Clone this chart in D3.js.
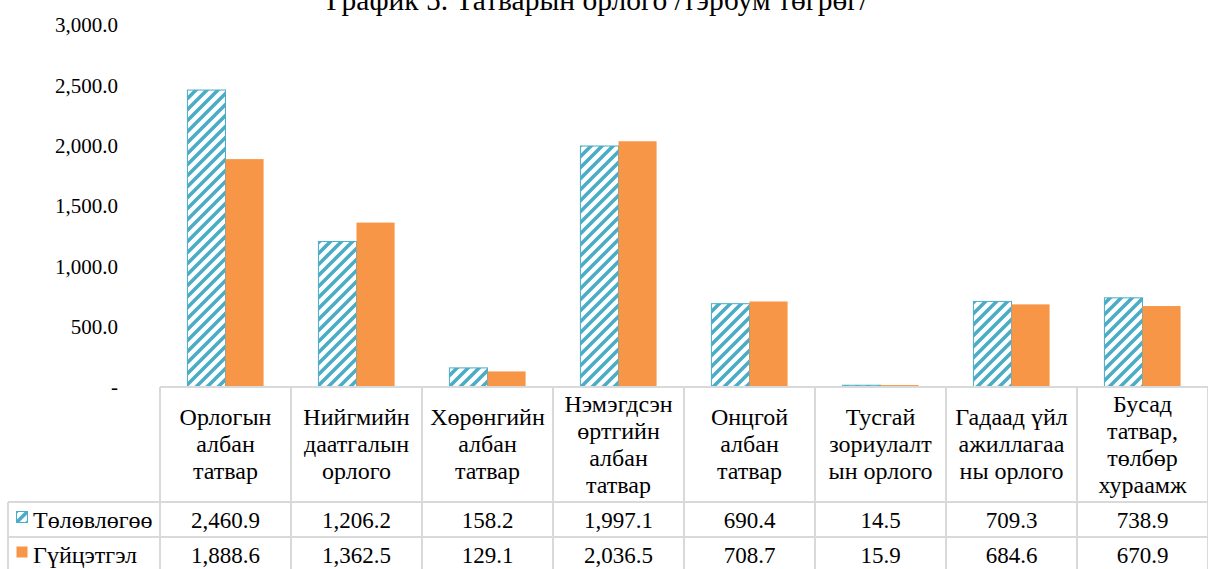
<!DOCTYPE html>
<html>
<head>
<meta charset="utf-8">
<script src="https://d3js.org/d3.v7.min.js"></script>
<style>
  body { margin: 0; background: white; }
</style>
</head>
<body>
<svg class="chart" width="1208" height="569"></svg>
<script>
var categories = [
  ["Орлогын", "албан", "татвар"],
  ["Нийгмийн", "даатгалын", "орлого"],
  ["Хөрөнгийн", "албан", "татвар"],
  ["Нэмэгдсэн", "өртгийн", "албан", "татвар"],
  ["Онцгой", "албан", "татвар"],
  ["Тусгай", "зориулалт", "ын орлого"],
  ["Гадаад үйл", "ажиллагаа", "ны орлого"],
  ["Бусад", "татвар,", "төлбөр", "хураамж"]
]
var seriesNames = ["Төлөвлөгөө", "Гүйцэтгэл"]
var plan = [2460.9, 1206.2, 158.2, 1997.1, 690.4, 14.5, 709.3, 738.9]
var actual = [1888.6, 1362.5, 129.1, 2036.5, 708.7, 15.9, 684.6, 670.9]
var yTicks = [0, 500, 1000, 1500, 2000, 2500, 3000]
var title = "График 5. Татварын орлого /тэрбум төгрөг/"

var blue = "#4bacc6", orange = "#f79646", grid = "#d9d9d9"
var svg = d3.select(".chart")

// wide upward diagonal hatch for the plan series
var pat = svg.append("defs").append("pattern")
  .attr("id", "hatch").attr("patternUnits", "userSpaceOnUse")
  .attr("width", 11).attr("height", 11)
pat.append("rect").attr("width", 11).attr("height", 11).attr("fill", "white")
pat.append("path").attr("d", "M-3,3 L3,-3 M0,11 L11,0 M8,14 L14,8")
  .attr("stroke", blue).attr("stroke-width", 3.6)

var keys = categories.map(function(d, i) { return "c" + i })
var x = d3.scaleBand().domain(keys).range([160, 1208])
var xs = d3.scaleBand().domain(seriesNames).range([0, x.bandwidth()]).paddingOuter(0.72)
var y = d3.scaleLinear().domain([0, 3000]).range([387, 25])

// title (top part falls off the page, as in the source)
svg.append("text").attr("x", 597).attr("y", 10).attr("text-anchor", "middle")
  .style("font-size", "29.5px").text(title)

// y axis labels only
var yAxis = svg.append("g").attr("transform", "translate(118,0)")
  .call(d3.axisLeft(y).tickValues(yTicks).tickSize(0).tickPadding(0)
    .tickFormat(function(d) { return d == 0 ? "-" : d3.format(",.1f")(d) }))
yAxis.select(".domain").remove()
yAxis.selectAll("text").style("font-size", "21px")

// bars
var rows = [plan, actual]
var fills = ["url(#hatch)", orange]
rows.forEach(function(vals, s) {
  svg.append("g").selectAll("rect").data(vals).enter().append("rect")
    .attr("x", function(d, i) { return x(keys[i]) + xs(seriesNames[s]) })
    .attr("width", xs.bandwidth())
    .attr("y", function(d) { return y(d) })
    .attr("height", function(d) { return y(0) - y(d) })
    .attr("fill", fills[s])
    .attr("stroke", s == 0 ? blue : "none").attr("stroke-width", 1)
})

// data table
var top0 = 387, headB = 502, r1B = 537, r2B = 572
var t = svg.append("g")
t.append("line").attr("x1", 160).attr("x2", 1208).attr("y1", top0).attr("y2", top0)
  .attr("stroke", grid).attr("stroke-width", 2)
;[headB, r1B, r2B].forEach(function(yy) {
  t.append("line").attr("x1", 8).attr("x2", 1208).attr("y1", yy).attr("y2", yy)
    .attr("stroke", grid).attr("stroke-width", 2)
})
keys.concat(["end"]).forEach(function(k, i) {
  var xx = k == "end" ? 1208 : x(k)
  t.append("line").attr("x1", xx).attr("x2", xx).attr("y1", top0).attr("y2", r2B)
    .attr("stroke", grid).attr("stroke-width", 2)
})
t.append("line").attr("x1", 8).attr("x2", 8).attr("y1", headB).attr("y2", r2B)
  .attr("stroke", grid).attr("stroke-width", 2)

// header labels
categories.forEach(function(lines, i) {
  var cx = x(keys[i]) + x.bandwidth() / 2
  var mid = (top0 + headB) / 2 + 7.5
  var first = mid - (lines.length - 1) / 2 * 27
  var tx = t.append("text").attr("text-anchor", "middle").style("font-size", "24px")
  lines.forEach(function(l, j) {
    tx.append("tspan").attr("x", cx).attr("y", first + j * 27).text(l)
  })
})

// value rows with legend keys
var rowMid = [(headB + r1B) / 2 + 8, (r1B + r2B) / 2 + 8]
rows.forEach(function(vals, s) {
  t.append("rect").attr("x", 16.5).attr("y", rowMid[s] - 16).attr("width", 11).attr("height", 11)
    .attr("fill", fills[s]).attr("stroke", s == 0 ? blue : "none")
  t.append("text").attr("x", 33).attr("y", rowMid[s]).style("font-size", "24px").text(seriesNames[s])
  t.selectAll(null).data(vals).enter().append("text")
    .attr("x", function(d, i) { return x(keys[i]) + x.bandwidth() / 2 })
    .attr("y", rowMid[s]).attr("text-anchor", "middle").style("font-size", "23px")
    .text(function(d) { return d3.format(",.1f")(d) })
})

svg.selectAll("text").style("font-family", "Liberation Serif").attr("fill", "black")
</script>
</body>
</html>
